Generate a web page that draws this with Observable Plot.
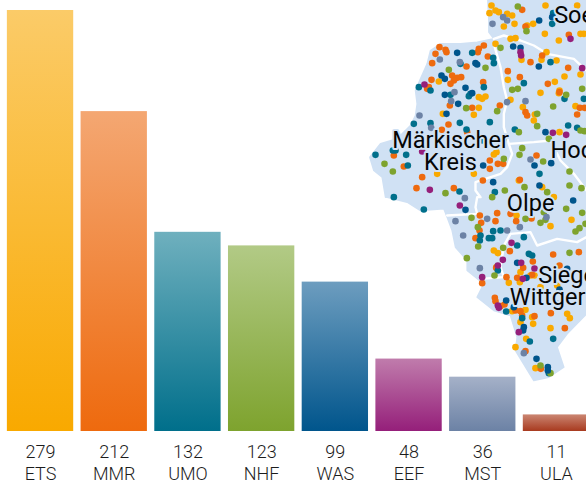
<!DOCTYPE html>
<html>
<head>
<meta charset="utf-8">
<script src="https://cdn.jsdelivr.net/npm/d3@7"></script>
<script src="https://cdn.jsdelivr.net/npm/@observablehq/plot@0.6"></script>
<style>
html,body{margin:0;padding:0;background:#fff}
#chart{position:relative;width:586px;height:481px;overflow:hidden}
#chart svg{position:absolute;left:0;top:0;background:transparent}
</style>
</head>
<body>
<div id="chart"></div>
<script>
const codes = ["ETS","MMR","UMO","NHF","WAS","EEF","MST","ULA"];
const counts = [279,212,132,123,99,48,36,11];
const barBottom = ["#f9a900","#ee6a0e","#006f8b","#7ea32e","#00558c","#951f7a","#6c82a5","#a83a1f"];
const barTop = ["#fbcb68","#f4a772","#6fb0be","#b2ca86","#6d9dbf","#c07cac","#a5b1c8","#cb8672"];

// Map units: 3 per pixel, origin at x = 360 px, y = 0 px
const outline = [[382,0],[385,60],[385,95],[400,115],[350,125],[300,130],[240,130],[210,150],[200,190],[180,235],[165,270],[170,310],[165,345],[150,375],[110,415],[60,430],[28,470],[40,510],[65,530],[75,590],[80,590],[140,605],[180,630],[250,625],[260,650],[275,690],[285,740],[320,780],[320,810],[370,850],[350,890],[400,930],[450,945],[470,1010],[465,1050],[520,1140],[565,1130],[610,1100],[590,1040],[620,1000],[678,940],[700,900],[700,0]];
const borders = [
  [[400,130],[420,200],[430,260],[440,300],[430,340],[430,380],[445,430],[455,460],[440,500],[420,520],[345,545],[345,570],[360,590],[350,590],[345,620],[350,640],[260,645]],
  [[400,115],[430,105],[480,120],[520,135],[560,160],[640,175],[678,210]],
  [[445,430],[520,425],[570,420],[600,480],[640,520],[678,570]],
  [[430,735],[450,700],[510,695],[530,735],[590,715],[650,725],[678,710]],
  [[430,735],[420,800],[430,830],[360,835]]
];
const etsDots = [[393,15],[405,30],[415,35],[387,38],[440,40],[455,45],[462,70],[430,78],[500,75],[518,70],[555,15],[650,15],[553,100],[595,120],[660,100],[670,100],[450,115],[465,113],[405,130],[483,178],[543,178],[558,155],[588,180],[442,238],[235,243],[355,290],[365,295],[375,288],[247,340],[340,343],[355,322],[450,298],[487,320],[523,342],[520,360],[540,277],[583,244],[597,270],[595,278],[612,228],[660,222],[645,317],[597,395],[408,455],[400,462],[230,520],[340,520],[475,540],[545,560],[468,645],[570,677],[633,658],[400,750],[412,758],[480,815],[478,845],[445,847],[522,825],[510,825],[495,928],[455,932],[480,965],[515,950],[518,970],[570,983],[620,940],[628,953],[497,1015],[525,1103],[408,800],[580,590],[465,1040],[540,860],[590,855]];
const mmrDots = [[485,28],[495,78],[625,103],[237,140],[225,160],[255,148],[258,155],[355,145],[352,155],[215,188],[318,198],[382,168],[370,135],[510,185],[545,165],[623,202],[442,212],[478,230],[562,250],[275,225],[290,232],[302,230],[280,240],[270,250],[205,260],[200,265],[213,238],[368,245],[268,315],[335,322],[418,315],[495,335],[500,345],[597,275],[658,322],[672,322],[650,342],[264,372],[244,388],[320,395],[388,480],[412,490],[428,490],[388,505],[130,498],[185,530],[168,563],[280,563],[367,540],[528,465],[100,465],[478,538],[358,645],[410,638],[450,640],[362,667],[405,662],[467,662],[513,654],[357,690],[345,713],[448,752],[578,762],[655,755],[517,783],[488,802],[407,802],[438,830],[470,832],[515,823],[403,892],[405,902],[432,912],[420,917],[465,930],[480,932],[485,945],[522,947],[571,938],[613,983],[495,1052],[541,1105],[597,795],[365,848]];
const umoDots = [[300,190],[335,157],[398,172],[400,188],[578,38],[575,70],[570,185],[370,260],[490,248],[270,283],[330,280],[325,287],[298,367],[388,365],[210,368],[160,370],[318,387],[463,387],[623,375],[650,382],[45,463],[97,450],[105,450],[137,463],[142,495],[537,520],[297,573],[403,575],[365,420],[430,415],[612,295],[670,295],[210,270],[175,260],[190,627],[100,590],[360,705],[358,720],[385,713],[395,713],[398,692],[420,690],[470,735],[505,760],[515,765],[412,810],[437,933],[485,953],[508,1023],[578,1015],[565,1118],[490,710]];
const nhfDots = [[472,18],[420,142],[498,92],[375,202],[265,208],[455,268],[472,265],[617,283],[578,318],[530,340],[530,377],[410,332],[317,323],[475,395],[565,415],[660,390],[672,392],[665,265],[72,490],[97,513],[477,463],[548,483],[430,475],[485,443],[627,513],[627,555],[663,563],[255,578],[433,570],[492,560],[395,590],[333,652],[352,680],[353,738],[428,742],[319,773],[402,825],[495,655],[540,667],[555,658],[550,635],[617,625],[665,637],[645,693],[657,683],[627,757],[540,1095],[570,1118],[560,575],[675,670]];
const wasDots = [[536,60],[458,138],[480,142],[535,198],[290,157],[345,188],[350,192],[243,225],[253,235],[315,262],[253,283],[335,278],[293,310],[258,340],[555,395],[522,495],[572,488],[368,495],[398,545],[537,555],[575,50],[315,628],[470,787],[498,832],[437,900],[490,980],[488,990],[528,1075],[562,1100],[562,1110],[638,600],[620,805],[597,867],[460,920]];
const eefDots = [[630,115],[480,155],[482,165],[192,252],[577,397],[617,403],[185,453],[208,568],[665,203],[298,615],[427,778],[482,787],[522,804],[487,835],[412,915],[415,922],[475,995],[453,727],[412,795],[365,830]];
const mstDots = [[396,70],[440,60],[428,50],[238,177],[298,185],[282,275],[272,302],[177,345],[212,382],[495,302],[510,477],[313,593],[440,305],[285,662],[308,705],[380,655],[440,690],[478,680],[358,803],[490,1058],[558,650],[590,910]];
const labelNames = ["Märkischer","Kreis","Olpe","Soe","Hoc","Siege","Wittger"];
const labelXs = [270,270,439,581,570,533,448];
const labelYs = [420,487,610,45,450,825,890];

const dotSeries = [etsDots,mmrDots,umoDots,nhfDots,wasDots,eefDots,mstDots];
const labels = labelNames.map((t,i) => ({t, x:labelXs[i], y:labelYs[i]}));
const centered = d => d.t === "Märkischer" || d.t === "Kreis";
const textStyle = {x:"x", y:"y", text:"t", fontSize:23.5, fill:"#050505", stroke:"#d0e1f4", strokeWidth:4, paintOrder:"stroke", fontFamily:"Roboto, sans-serif"};

const mapPlot = Plot.plot({
  width:586, height:481, margin:0,
  x:{domain:[-1080,678], range:[0,586], axis:null},
  y:{domain:[0,1443], range:[0,481], axis:null},
  marks:[
    Plot.line(outline, {x:d=>d[0], y:d=>d[1], fill:"#d0e1f4", stroke:"#d0e1f4", curve:"linear-closed"}),
    ...borders.map(b => Plot.line(b, {x:d=>d[0], y:d=>d[1], stroke:"#fff", strokeWidth:2.4, strokeLinejoin:"round"})),
    ...dotSeries.map((pts,i) => Plot.dot(pts, {x:d=>d[0], y:d=>d[1], r:3.3, fill:barBottom[i]})),
    Plot.text(labels, {...textStyle, textAnchor:"middle", filter:centered}),
    Plot.text(labels, {...textStyle, textAnchor:"start", filter:d=>!centered(d)})
  ]
});

const rows = codes.map((code,i) => ({code, count:counts[i], i}));
const gradients = () => {
  const s = d3.create("svg:g");
  const defs = s.append("defs");
  codes.forEach((c,i) => {
    const g = defs.append("linearGradient").attr("id","grad"+i).attr("x1",0).attr("x2",0).attr("y1",0).attr("y2",1);
    g.append("stop").attr("offset","0%").attr("stop-color",barTop[i]);
    g.append("stop").attr("offset","100%").attr("stop-color",barBottom[i]);
  });
  return s.node();
};
const axisStyle = {anchor:"bottom", tickSize:0, label:null, fontSize:18, fontFamily:"Roboto, sans-serif", fontWeight:300, color:"#1c1c1c"};
const barPlot = Plot.plot({
  width:586, height:481, marginTop:10, marginBottom:50, marginLeft:0, marginRight:0,
  style:{background:"transparent"},
  x:{domain:codes, range:[-0.5,596.5], padding:0.1, round:false, label:null, axis:null},
  y:{domain:[0,279], axis:null},
  marks:[
    gradients,
    Plot.barY(rows, {x:"code", y:"count", fill:{value:d=>`url(#grad${d.i})`, scale:null}}),
    Plot.axisX({...axisStyle, tickPadding:14, tickFormat:c=>counts[codes.indexOf(c)]}),
    Plot.axisX({...axisStyle, tickPadding:36})
  ]
});
document.getElementById("chart").append(mapPlot, barPlot);
</script>
</body>
</html>
